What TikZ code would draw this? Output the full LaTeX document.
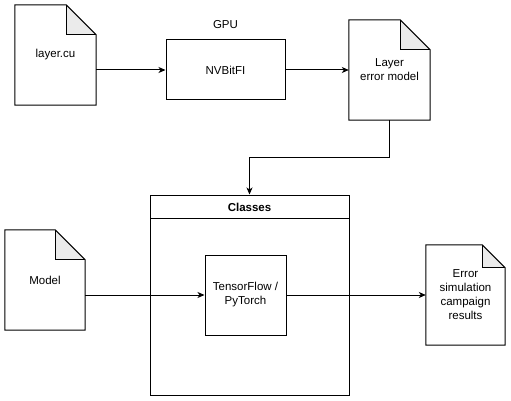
\documentclass[tikz,border=0pt]{standalone}
\usepackage{fontspec}
\setmainfont{Liberation Sans}
\usetikzlibrary{arrows.meta,calc,backgrounds}
\definecolor{foldgray}{HTML}{EBEBEB}
\tikzset{
  every node/.style={font=\fontsize{11.5}{14}\selectfont},
  box/.style={draw, line width=1pt, rectangle, inner sep=0pt, align=center},
  docbox/.style={rectangle, inner sep=0pt, align=center},
  conn/.style={line width=1pt, -{Stealth[length=7pt,width=6pt,inset=2pt]}},
}
\newcommand{\docshape}[2][30pt]{%
  \begin{scope}[on background layer]
  \fill[foldgray] ($(#2.north east)+(-#1,0)$) -- ($(#2.north east)+(0,-#1)$) -- ($(#2.north east)+(-#1,-#1)$) -- cycle;
  \draw[line width=1pt, line join=miter] (#2.north west) -- ($(#2.north east)+(-#1,0)$) -- ($(#2.north east)+(0,-#1)$) -- (#2.south east) -- (#2.south west) -- cycle;
  \draw[line width=1pt] ($(#2.north east)+(-#1,0)$) -- ($(#2.north east)+(-#1,-#1)$) -- ($(#2.north east)+(0,-#1)$);
  \end{scope}
}
\begin{document}
\begin{tikzpicture}[x=1pt,y=-1pt]
\useasboundingbox (0,0) rectangle (511,401);
% top row
\node[docbox, minimum width=81pt, minimum height=100pt] (lcu) at (55.5,55) {layer.cu};
\docshape{lcu}
\node[box, minimum width=119pt, minimum height=60pt] (nvb) at (225.5,70) {NVBitFI};
\node (gpu) at (225.5,25) {GPU};
\node[docbox, minimum width=81pt, minimum height=100pt] (lem) at (389.5,70) {Layer\\error model};
\docshape{lem}
% classes container
\node[box, minimum width=199pt, minimum height=200pt] (cls) at (249.5,295) {};
\draw[line width=1pt] (150,218) -- (349,218);
\node[font=\fontsize{11.5}{14}\selectfont\bfseries] (clst) at (249.5,207) {Classes};
\node[box, minimum width=81pt, minimum height=80pt] (tf) at (245.5,295) {TensorFlow /\\PyTorch};
\node[docbox, minimum width=80pt, minimum height=100pt] (mdl) at (45,280) {Model};
\docshape{mdl}
\node[docbox, minimum width=79pt, minimum height=100pt] (esc) at (465.5,295) {Error\\simulation\\campaign\\results};
\docshape[23pt]{esc}
% connectors
\draw[conn] (lcu.east |- nvb.west) -- (nvb.west);
\draw[conn] (nvb.east) -- (lem.west);
\draw[conn] (lem.south) -- ++(0,37) -| (cls.north);
\draw[conn] (mdl.east |- tf.west) -- (tf.west);
\draw[conn] (tf.east) -- (esc.west);
\end{tikzpicture}
\end{document}
